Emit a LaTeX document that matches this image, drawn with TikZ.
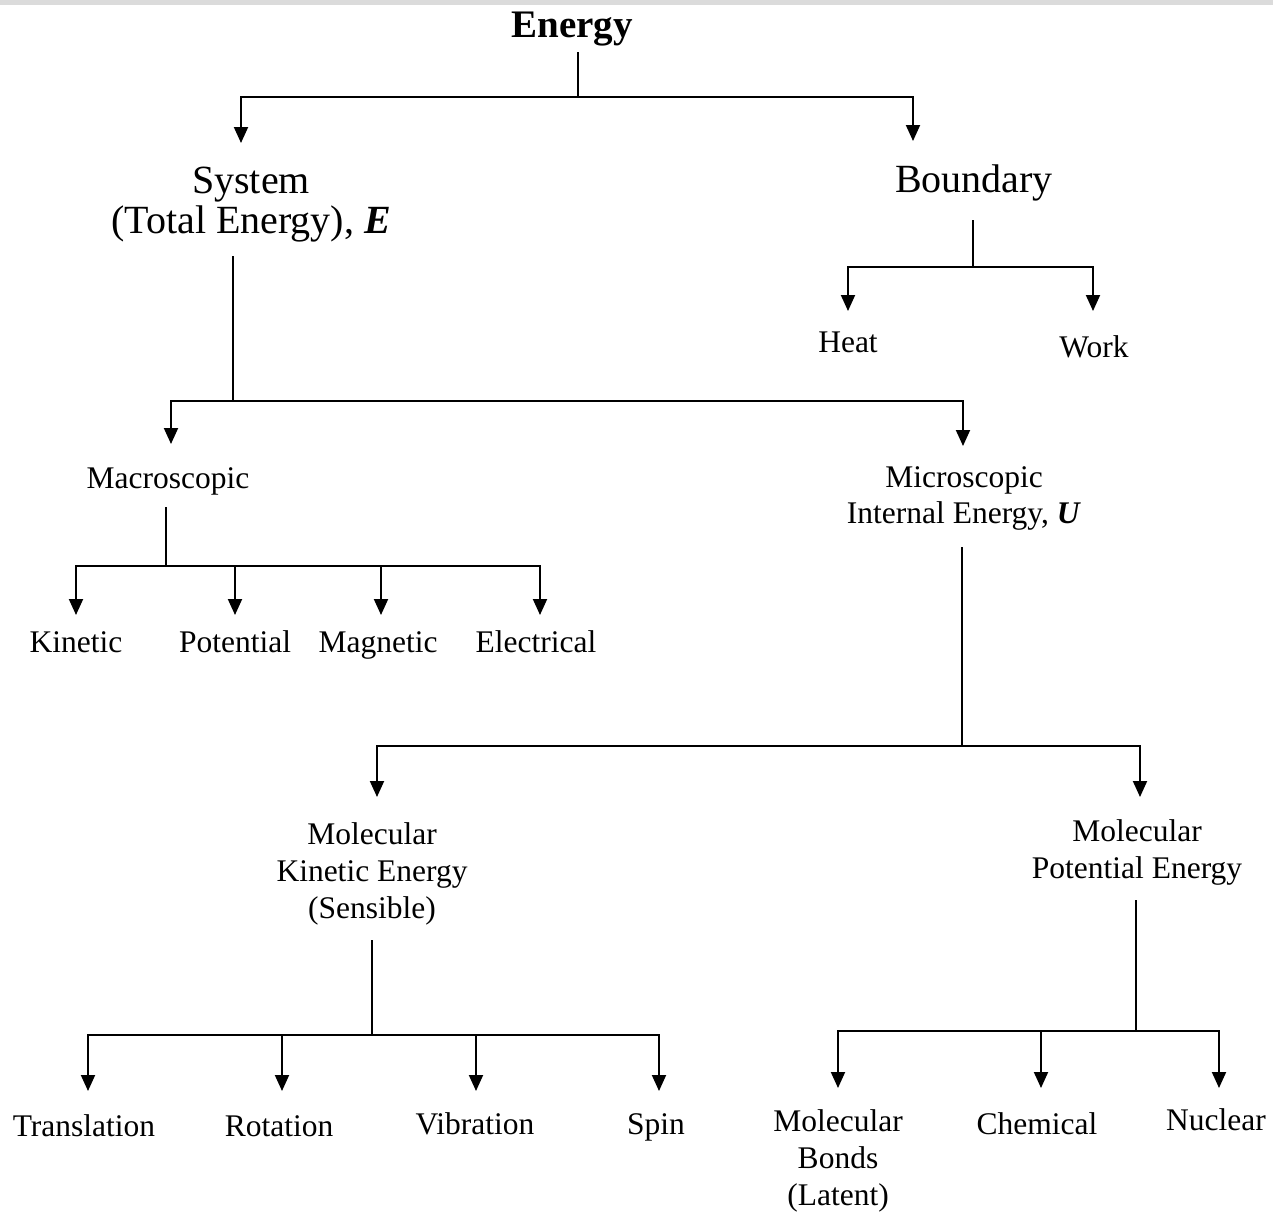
\documentclass[tikz,border=0pt]{standalone}
\usepackage{fontspec}
\setmainfont{Liberation Serif}
\usetikzlibrary{arrows.meta}
\begin{document}
\begin{tikzpicture}[x=1bp,y=-1bp,
  lbl/.style={inner sep=0pt, align=center, font=\fontsize{31.5bp}{37bp}\selectfont},
  one/.style={lbl, text height=21.4bp, text depth=6.9bp},
  big/.style={inner sep=0pt, align=center, font=\fontsize{40bp}{40bp}\selectfont},
  ln/.style={line width=1.9bp, black},
  arr/.style={ln, -{Triangle[width=14bp,length=16bp]}}]
\useasboundingbox (0,0) rectangle (1273,1212);
\fill[black!14] (0,0) rectangle (1273,5);

% nodes
\node[inner sep=0pt, text height=26.5bp, text depth=8.6bp, font=\fontsize{39bp}{39bp}\selectfont\bfseries] (energy) at (572,29) {Energy};
\node[big] (system) at (251,205) {System\\(Total Energy), \textbf{\textit{E}}};
\node[big, text height=27.2bp, text depth=8.8bp] (boundary) at (974,183) {Boundary};
\node[one] (heat) at (848,345) {Heat};
\node[one] (work) at (1094,350) {Work};
\node[one] (macro) at (168,481) {Macroscopic};
\node[lbl, font=\fontsize{31.5bp}{36bp}\selectfont] (micro) at (964,498) {Microscopic\\Internal Energy, \textbf{\textit{U}}};
\node[one] (kin) at (76,645) {Kinetic};
\node[one] (pot) at (235,645) {Potential};
\node[one] (mag) at (378,645) {Magnetic};
\node[one] (ele) at (536,645) {Electrical};
\node[lbl] (mke) at (372,874) {Molecular\\Kinetic Energy\\(Sensible)};
\node[lbl] (mpe) at (1137,852) {Molecular\\Potential Energy};
\node[one] (tra) at (84,1129) {Translation};
\node[one] (rot) at (279,1129) {Rotation};
\node[one] (vib) at (475,1127) {Vibration};
\node[one] (spin) at (656,1127) {Spin};
\node[lbl] (bonds) at (838,1161) {Molecular\\Bonds\\(Latent)};
\node[one] (chem) at (1037,1127) {Chemical};
\node[one] (nuc) at (1216,1123) {Nuclear};

% junction coordinates
\coordinate (sE) at (578,52);   \coordinate (jE) at (578,97);
\coordinate (tSys) at (241,143); \coordinate (tBnd) at (913,141);
\coordinate (sB) at (973,220);  \coordinate (jB) at (973,267);
\coordinate (tHeat) at (848,311); \coordinate (tWork) at (1093,311);
\coordinate (sS) at (233,256);  \coordinate (jS) at (233,401);
\coordinate (tMac) at (171,444); \coordinate (tMic) at (963,446);
\coordinate (sM) at (166,507);  \coordinate (jM) at (166,566);
\coordinate (tKin) at (76,615); \coordinate (tPot) at (235,615);
\coordinate (tMag) at (381,615); \coordinate (tEle) at (540,615);
\coordinate (sU) at (962,547);  \coordinate (jU) at (962,746);
\coordinate (tMke) at (377,797); \coordinate (tMpe) at (1140,797);
\coordinate (sK) at (372,940);  \coordinate (jK) at (372,1035);
\coordinate (tTra) at (88,1091); \coordinate (tRot) at (282,1091);
\coordinate (tVib) at (476,1091); \coordinate (tSpin) at (659,1091);
\coordinate (sP) at (1136,900); \coordinate (jP) at (1136,1031);
\coordinate (tBonds) at (838,1088); \coordinate (tChem) at (1041,1088);
\coordinate (tNuc) at (1219,1088);

% connectors
\draw[ln] (sE) -- (jE);
\draw[arr] (jE) -| (tSys);
\draw[arr] (jE) -| (tBnd);

\draw[ln] (sB) -- (jB);
\draw[arr] (jB) -| (tHeat);
\draw[arr] (jB) -| (tWork);

\draw[ln] (sS) -- (jS);
\draw[arr] (jS) -| (tMac);
\draw[arr] (jS) -| (tMic);

\draw[ln] (sM) -- (jM);
\draw[arr] (jM) -| (tKin);
\draw[arr] (jM) -| (tPot);
\draw[arr] (jM) -| (tMag);
\draw[arr] (jM) -| (tEle);

\draw[ln] (sU) -- (jU);
\draw[arr] (jU) -| (tMke);
\draw[arr] (jU) -| (tMpe);

\draw[ln] (sK) -- (jK);
\draw[arr] (jK) -| (tTra);
\draw[arr] (jK) -| (tRot);
\draw[arr] (jK) -| (tVib);
\draw[arr] (jK) -| (tSpin);

\draw[ln] (sP) -- (jP);
\draw[arr] (jP) -| (tBonds);
\draw[arr] (jP) -| (tChem);
\draw[arr] (jP) -| (tNuc);
\end{tikzpicture}
\end{document}
